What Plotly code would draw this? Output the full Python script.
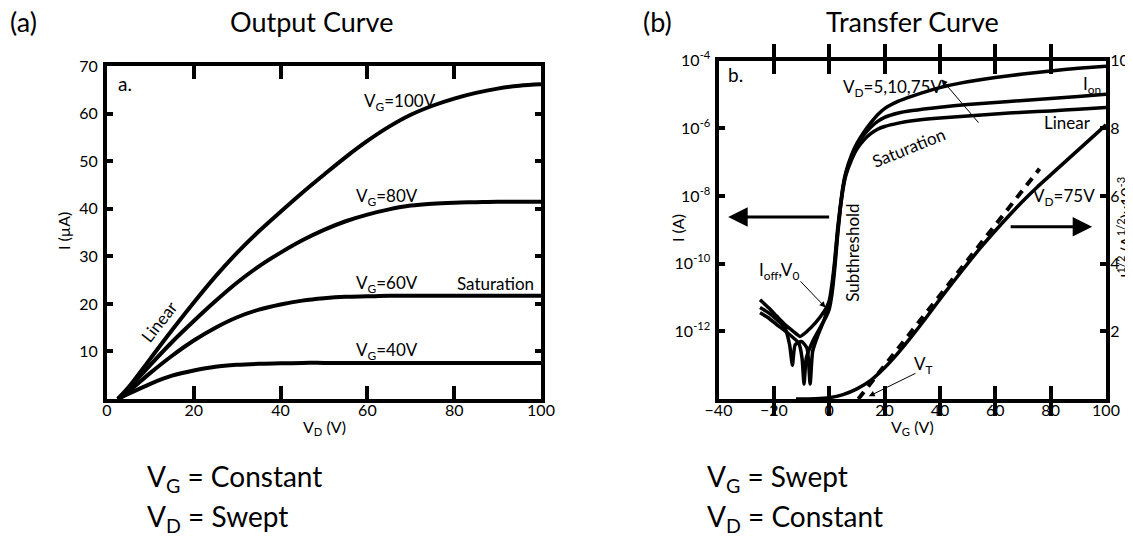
import plotly.graph_objects as go

# page is rendered with an 8px body margin: lay the figure out in page pixels
OFF = 8
W, H = 1133 - OFF, 536 - OFF

def px(p):
    return (p - OFF) / W

def py(p):
    return 1 - (p - OFF) / H

# ---------------- (a) Output curve data ----------------
vd = [2.5, 5, 10, 15, 20, 25, 30, 35, 40, 45, 50, 55, 60, 65, 70, 75, 80, 85, 90, 95, 100]
i_vg100 = [0, 2.5, 8.5, 14.5, 20.3, 25.8, 30.8, 35.3, 39.4, 43.4, 47.2, 50.9, 54.3, 57.3, 59.8, 61.7, 63.2, 64.4, 65.3, 65.9, 66.2]
i_vg80 = [0, 2.2, 7.2, 12.0, 16.4, 20.6, 24.5, 27.9, 30.8, 33.4, 35.6, 37.4, 38.8, 39.9, 40.7, 41.1, 41.3, 41.4, 41.5, 41.5, 41.5]
i_vg60 = [0, 1.6, 5.5, 9.1, 12.3, 15.0, 17.2, 18.8, 19.9, 20.7, 21.2, 21.5, 21.6, 21.7, 21.7, 21.7, 21.7, 21.7, 21.7, 21.7, 21.7]
i_vg40 = [0, 1.1, 3.2, 4.9, 6.0, 6.8, 7.2, 7.4, 7.5, 7.6, 7.6, 7.6, 7.6, 7.6, 7.6, 7.6, 7.6, 7.6, 7.6, 7.6, 7.6]
a_xticks = [0, 20, 40, 60, 80, 100]
a_yticks = [10, 20, 30, 40, 50, 60, 70]

# ---------------- (b) Transfer curve data ----------------
# log10 of drain current (A)
vg_a = [-25, -22, -19, -16, -13, -10.5, -8, -5, -3, -1, 0, 1, 2, 3, 4, 5, 6, 8, 10, 12.5, 15, 17.5, 20, 25, 30, 40, 50,
        60, 70, 80, 90, 100]
log_i_vd75 = [-11.07, -11.3, -11.55, -11.8, -12.0, -12.15, -12.0, -11.75, -11.55, -11.3, -11.1, -10.6, -9.9, -9.0, -8.3,
              -7.7, -7.3, -6.8, -6.45, -6.12, -5.84, -5.6, -5.42, -5.2, -5.05, -4.8, -4.63, -4.5, -4.4, -4.31, -4.23, -4.17]
vg_b = [-25, -22, -19, -16, -14.3, -13.3, -12.3, -10, -8, -6.9, -6, -4, -2, -1, 0, 1, 2, 3, 4, 5, 6, 8, 10, 12.5, 15,
        17.5, 20, 25, 30, 40, 50, 60, 70, 80, 90, 100]
log_i_vd10 = [-11.3, -11.45, -11.65, -11.9, -12.4, -13.0, -12.4, -12.3, -12.5, -13.56, -12.6, -12.1, -11.7, -11.45, -11.2,
              -10.75, -10.0, -9.1, -8.35, -7.75, -7.35, -6.87, -6.52, -6.2, -5.97, -5.8, -5.68, -5.55, -5.48, -5.38, -5.3,
              -5.24, -5.18, -5.12, -5.06, -5.0]
vg_c = [-25, -22, -19, -15, -11, -9.8, -9.1, -8.3, -6, -3, -1, 0, 1, 2, 3, 4, 5, 6, 8, 10, 12.5, 15, 17.5, 20, 25, 30, 40,
        50, 60, 70, 80, 90, 100]
log_i_vd5 = [-11.45, -11.6, -11.8, -12.05, -12.35, -12.8, -13.56, -12.8, -12.3, -11.85, -11.55, -11.35, -10.9, -10.15,
             -9.2, -8.4, -7.8, -7.4, -6.95, -6.62, -6.35, -6.16, -6.03, -5.95, -5.85, -5.78, -5.7, -5.64, -5.58, -5.53,
             -5.49, -5.44, -5.39]
# sqrt(I) x10^-3 at VD = 75 V
vg_sqrt = [-12, -5, 0, 5, 10, 15, 20, 25, 30, 35, 40, 45, 50, 55, 60, 65, 70, 75, 80, 85, 90, 95, 100]
sqrt_vd75 = [0, 0.01, 0.04, 0.13, 0.3, 0.55, 0.92, 1.37, 1.87, 2.4, 2.95, 3.48, 4.0, 4.5, 4.97, 5.42, 5.85, 6.25, 6.62,
             6.99, 7.36, 7.73, 8.1]
vg_tangent = [10.5, 76]
sqrt_tangent = [0, 6.8]
b_xticks = [-40, -20, 0, 20, 40, 60, 80, 100]
b_yticks_exp = [-12, -10, -8, -6, -4]
b_y2ticks = [2, 4, 6, 8, 10]

FONT = "Lato"
LW = 4
TICKSIZE = 16
LABSIZE = 17

fig = go.Figure()

for ys in [i_vg100, i_vg80, i_vg60, i_vg40]:
    fig.add_trace(go.Scatter(x=vd, y=ys, mode="lines", line=dict(color="black", width=LW, shape="spline", smoothing=1.0),
                             xaxis="x", yaxis="y", showlegend=False, hoverinfo="skip"))

for xs, ls in [(vg_a, log_i_vd75), (vg_b, log_i_vd10), (vg_c, log_i_vd5)]:
    fig.add_trace(go.Scatter(x=xs, y=[10 ** v for v in ls], mode="lines",
                             line=dict(color="black", width=3.5, shape="spline", smoothing=0.5),
                             xaxis="x2", yaxis="y2", showlegend=False, hoverinfo="skip"))

fig.add_trace(go.Scatter(x=vg_sqrt, y=sqrt_vd75, mode="lines", line=dict(color="black", width=3.5, shape="spline", smoothing=0.6),
                         xaxis="x2", yaxis="y3", showlegend=False, hoverinfo="skip"))
fig.add_trace(go.Scatter(x=vg_tangent, y=sqrt_tangent, mode="lines", line=dict(color="black", width=4, dash="9px,7px"),
                         xaxis="x2", yaxis="y3", showlegend=False, hoverinfo="skip"))

axis_common = dict(showline=True, linecolor="black", linewidth=LW, ticks="inside", tickcolor="black", tickwidth=LW,
                   showgrid=False, zeroline=False, automargin=False,
                   tickfont=dict(family=FONT, size=TICKSIZE, color="black"), fixedrange=True)

fig.update_layout(
    width=W, height=H, margin=dict(l=0, r=0, t=0, b=0, pad=0, autoexpand=False), paper_bgcolor="white",
    plot_bgcolor="white",
    xaxis=dict(axis_common, domain=[px(107), px(541)], range=[0, 100], tickvals=a_xticks, ticklen=13,
               mirror="allticks", anchor="y", ticklabelstandoff=-6),
    yaxis=dict(axis_common, domain=[py(399), py(66.3)], range=[0, 70], tickvals=a_yticks, ticklen=6,
               mirror="allticks", anchor="x", ticklabelstandoff=2),
    xaxis2=dict(axis_common, domain=[px(718.5), px(1106)], range=[-40, 100], tickvals=b_xticks,
                ticklen=13, mirror="allticks", anchor="y2", ticklabelstandoff=-6),
    yaxis2=dict(axis_common, domain=[py(399), py(60.5)], type="log", range=[-14, -4],
                tickvals=[10 ** e for e in b_yticks_exp], ticktext=["10<sup>%d</sup>" % e for e in b_yticks_exp],
                ticklen=6, mirror=True, anchor="x2", ticklabelstandoff=1),
    yaxis3=dict(axis_common, domain=[py(399), py(60.5)], range=[0, 10], tickvals=b_y2ticks,
                ticktext=[str(v) for v in b_y2ticks], ticklen=6, side="right", overlaying="y2", anchor="x2",
                ticklabelstandoff=-3),
)

ann = []
def txt(text, x, y, xref="paper", yref="paper", size=LABSIZE, angle=0, xanchor="center", yanchor="middle", family=FONT):
    ann.append(dict(text=text, x=x, y=y, xref=xref, yref=yref, showarrow=False, textangle=angle, xanchor=xanchor,
                    yanchor=yanchor, font=dict(family=family, size=size, color="black")))

def arrow(x, y, ax, ay, xref, yref, width=1, head=2, size=1.0):
    ann.append(dict(text="", x=x, y=y, ax=ax, ay=ay, xref=xref, yref=yref, axref=xref, ayref=yref, showarrow=True,
                    arrowhead=head, arrowwidth=width, arrowsize=size, arrowcolor="black"))

# headers
txt("(a)", px(23), py(22), size=27)
txt("Output Curve", px(311), py(21), size=27)
txt("(b)", px(658), py(22), size=27)
txt("Transfer Curve", px(912), py(21), size=27)
# bottom
txt("V<sub>G</sub> = Constant", px(145), py(478), size=28, xanchor="left")
txt("V<sub>D</sub> = Swept", px(145), py(518), size=28, xanchor="left")
txt("V<sub>G</sub> = Swept", px(705), py(478), size=28, xanchor="left")
txt("V<sub>D</sub> = Constant", px(705), py(518), size=28, xanchor="left")
# axis titles
txt("I (\u00b5A)", px(63), py(231), size=16, angle=-90)
txt("V<sub>D</sub> (V)", px(324), py(427), size=16)
txt("I (A)", px(677), py(228), size=16, angle=-90)
txt("V<sub>G</sub> (V)", px(912), py(427), size=16)
txt("I<sup>1/2</sup> (A<sup>1/2</sup>)x10<sup>-3</sup>", px(1124), py(228), size=16, angle=-90)

# (a) labels
txt("a.", 4.1, 66.3, "x", "y", size=19)
txt("V<sub>G</sub>=100V", 67.5, 62.5, "x", "y")
txt("V<sub>G</sub>=80V", 64.5, 42.4, "x", "y")
txt("V<sub>G</sub>=60V", 64.5, 24.3, "x", "y")
txt("Saturation", 89.6, 24.4, "x", "y")
txt("V<sub>G</sub>=40V", 64.5, 10.1, "x", "y")
txt("Linear", 12.0, 16.3, "x", "y", angle=-52)

# (b) labels (left log axis uses log10 position)
txt("b.", -34, -4.4, "x2", "y2", size=19)
txt("V<sub>D</sub>=5,10,75V", 22.7, -4.8, "x2", "y2")
txt("I<sub>on</sub>", 95, -4.72, "x2", "y2")
txt("Linear", 86, -5.83, "x2", "y2")
txt("Saturation", 28.7, -6.56, "x2", "y2", angle=-22)
txt("Subthreshold", 8.6, -9.68, "x2", "y2", angle=-90)
txt("I<sub>off</sub>,V<sub>0</sub>", -18.2, -10.22, "x2", "y2")
txt("V<sub>T</sub>", 34, 1.0, "x2", "y3")
txt("V<sub>D</sub>=75V", 85, 5.98, "x2", "y3")

# arrows
arrow(-36.5, -8.62, 0.5, -8.62, "x2", "y2", width=3, head=2, size=1.3)
arrow(95, 5.09, 65, 5.09, "x2", "y3", width=3, head=2, size=1.3)
arrow(40.6, -4.56, 54.4, -5.88, "x2", "y2", width=1, head=2, size=1.2)
arrow(-1.3, -11.3, -10.9, -10.48, "x2", "y2", width=1, head=2, size=1.2)
arrow(14.3, 0.08, 31.7, 0.78, "x2", "y3", width=1, head=2, size=1.2)

fig.update_layout(annotations=ann)
fig.write_html("out.html")
